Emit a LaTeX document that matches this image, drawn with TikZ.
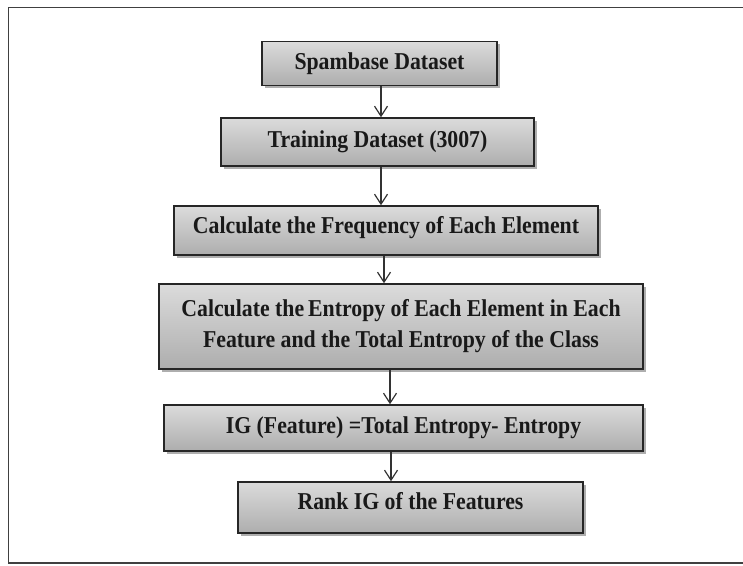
\documentclass[tikz,border=0pt]{standalone}
\usepackage{fontspec}
\setmainfont{Liberation Serif}
\newfontfamily\boxfont[FakeStretch=0.9]{Liberation Serif}
\usetikzlibrary{arrows.meta,shadows,calc}
\begin{document}
\begin{tikzpicture}[x=0.5pt,y=-0.5pt,
  stepbox/.style={draw=black!85, line width=0.75pt,
    top color=black!14, middle color=black!5, bottom color=black!32,
    drop shadow={shadow xshift=1.3pt, shadow yshift=-1.3pt, opacity=0.45, fill=black!70},
    font=\boxfont\bfseries\fontsize{12.1}{15.5}\selectfont, text=black!90, align=center, inner sep=0pt},
  arr/.style={draw=black!80, line width=0.6pt, -{Straight Barb[length=5pt,width=6.5pt]}},
  frame/.style={draw=black!75, line width=0.8pt}]
\useasboundingbox (0,0) rectangle (743,566);
\draw[frame] (8.5,7.5) rectangle (760,563);
\node[stepbox, minimum width=117.5pt, minimum height=22pt] (b1) at (379.5,63.5) {Spambase Dataset};
\node[stepbox, minimum width=156.5pt, minimum height=24pt] (b2) at (377.5,142) {Training Dataset (3007)};
\node[stepbox, minimum width=212pt, minimum height=24.5pt, text height=8.2pt, text depth=5.2pt] (b3) at (386,230.5) {Calculate the Frequency of Each Element};
\node[stepbox, minimum width=242pt, minimum height=42.5pt] (b4) at (401,326.5) {Calculate the\,Entropy of Each Element in Each\\Feature and the Total Entropy of the Class};
\node[stepbox, minimum width=239.5pt, minimum height=23pt] (b5) at (403.5,428) {IG (Feature) =Total Entropy- Entropy};
\node[stepbox, minimum width=172.5pt, minimum height=25.5pt, text height=8.2pt, text depth=6.3pt] (b6) at (410.5,507.5) {Rank IG of the Features};
\draw[arr] ([xshift=0.75pt]b1.south) -- ([xshift=0.75pt]b1.south |- b2.north);
\draw[arr] ([xshift=1.75pt]b2.south) -- ([xshift=1.75pt]b2.south |- b3.north);
\draw[arr] ([xshift=-1pt]b3.south) -- ([xshift=-1pt]b3.south |- b4.north);
\draw[arr] ([xshift=-5.5pt]b4.south) -- ([xshift=-5.5pt]b4.south |- b5.north);
\draw[arr] ([xshift=-6.25pt]b5.south) -- ([xshift=-6.25pt]b5.south |- b6.north);
\end{tikzpicture}
\end{document}
